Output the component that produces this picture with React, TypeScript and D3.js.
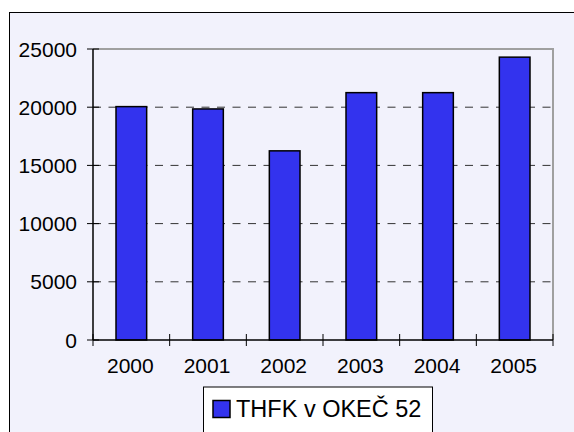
import * as d3 from 'd3';

const years = ['2000', '2001', '2002', '2003', '2004', '2005'];
const thfk = [20050, 19850, 16250, 21250, 21250, 24300];
const yTicks = [0, 5000, 10000, 15000, 20000, 25000];
const seriesName = 'THFK v OKEČ 52';

const App = () => {
  const width = 574;
  const height = 432;
  const left = 93;
  const right = 553;
  const top = 49;
  const bottom = 340;

  const x = d3.scaleBand().domain(years).range([left, right]).padding(0);
  const y = d3.scaleLinear().domain([0, 25000]).range([bottom, top]);
  const barW = x.bandwidth() * 0.4;
  const font = 'Arial, "Liberation Sans", sans-serif';
  const boundaries = d3.range(years.length + 1).map((i) => left + i * x.step());

  return (
    <svg
      width={width}
      height={height}
      style={{ position: 'absolute', left: 0, top: 0 }}
      fontFamily={font}
    >
      <rect x={0} y={0} width={width} height={height} fill="#ffffff" />
      <rect x={9.5} y={12.5} width={570} height={430} fill="#f2f2fc" stroke="#000" strokeWidth={1} />

      {/* gridlines */}
      {yTicks
        .filter((t) => t > 0 && t < 25000)
        .map((t) => (
          <line
            key={t}
            x1={left}
            x2={right}
            y1={y(t)}
            y2={y(t)}
            stroke="#333"
            strokeWidth={1}
            strokeDasharray="8,7.5"
          />
        ))}

      {/* plot border top/right */}
      <path d={`M${left},${top}H${right}V${bottom}`} fill="none" stroke="#a0a0a0" strokeWidth={2} />

      {/* bars */}
      {years.map((yr, i) => (
        <rect
          key={yr}
          x={x(yr)! + (x.bandwidth() - barW) / 2}
          y={y(thfk[i])}
          width={barW}
          height={y(0) - y(thfk[i])}
          fill="#3333ee"
          stroke="#000"
          strokeWidth={1.5}
        />
      ))}

      {/* axes */}
      <line x1={left} x2={left} y1={top} y2={bottom} stroke="#000" strokeWidth={1.5} />
      <line x1={left} x2={right} y1={bottom} y2={bottom} stroke="#000" strokeWidth={1.5} />
      {yTicks.map((t) => (
        <g key={t}>
          <line x1={left - 6} x2={left + 6} y1={y(t)} y2={y(t)} stroke="#000" strokeWidth={1} />
          <text x={77} y={y(t)} dy="0.36em" textAnchor="end" fontSize={21} fill="#000">
            {t}
          </text>
        </g>
      ))}
      {boundaries.map((bx, i) => (
        <line key={i} x1={bx} x2={bx} y1={bottom - 6} y2={bottom + 6} stroke="#000" strokeWidth={1} />
      ))}
      {years.map((yr) => (
        <text
          key={yr}
          x={x(yr)! + x.bandwidth() / 2 - 1}
          y={373}
          textAnchor="middle"
          fontSize={21}
          fill="#000"
        >
          {yr}
        </text>
      ))}

      {/* legend */}
      <rect x={203.5} y={387} width={229} height={60} fill="#ffffff" stroke="#000" strokeWidth={1} />
      <rect x={213} y={400.5} width={17} height={17} fill="#3333ee" stroke="#000" strokeWidth={1.5} />
      <text x={236} y={416.5} fontSize={23.5} fill="#000">
        {seriesName}
      </text>
    </svg>
  );
};

export default App;
